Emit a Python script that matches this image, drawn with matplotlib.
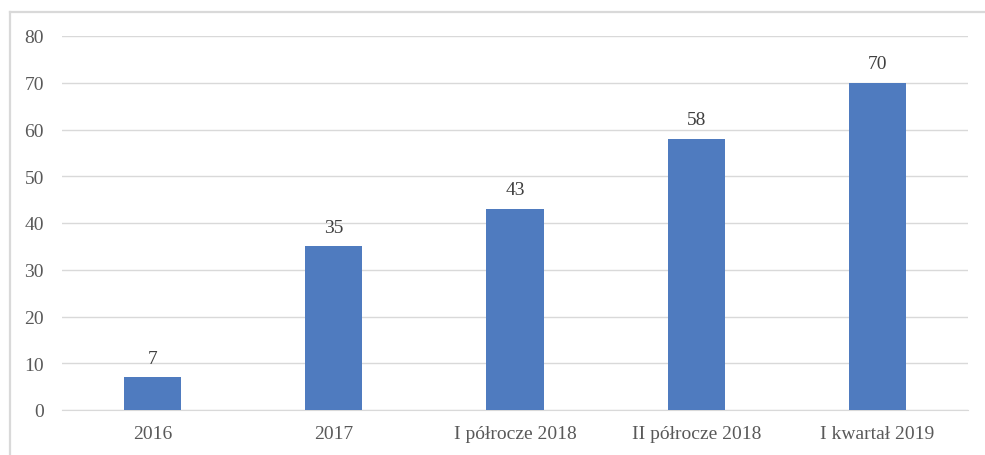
import matplotlib.pyplot as plt
from matplotlib.lines import Line2D

categories = ['2016', '2017', 'I półrocze 2018', 'II półrocze 2018', 'I kwartał 2019']
values = [7, 35, 43, 58, 70]
y_ticks = [0, 10, 20, 30, 40, 50, 60, 70, 80]

plt.rcParams['font.family'] = ['Liberation Serif', 'DejaVu Serif']

fig = plt.figure(figsize=(9.85, 4.56), dpi=100)
ax = fig.add_axes([62 / 985, 45 / 456, 906 / 985, 374 / 456])

x = range(len(categories))
bars = ax.bar(x, values, width=0.315, color='#4F7BBF', zorder=3)
for b, v in zip(bars, values):
    ax.text(b.get_x() + b.get_width() / 2, v + 2.3, str(v), ha='center', va='bottom',
            fontsize=14, color='#404040')

ax.set_xlim(-0.5, len(categories) - 0.5)
ax.set_ylim(0, 80)
ax.set_yticks(y_ticks)
ax.set_xticks(list(x))
ax.set_xticklabels(categories)
ax.tick_params(axis='both', length=0, labelsize=14, labelcolor='#595959')
ax.tick_params(axis='y', pad=13)
ax.tick_params(axis='x', pad=11)
ax.grid(axis='y', color='#D9D9D9', linewidth=1, zorder=0)
for s in ['top', 'right', 'left']:
    ax.spines[s].set_visible(False)
ax.spines['bottom'].set_color('#D9D9D9')

# frame around the chart (cut off at right and bottom)
fig.add_artist(Line2D([9.5 / 985, 1], [1 - 12.5 / 456] * 2, transform=fig.transFigure,
                      color='#D9D9D9', linewidth=1.6))
fig.add_artist(Line2D([9.5 / 985] * 2, [0, 1 - 12.5 / 456], transform=fig.transFigure,
                      color='#D9D9D9', linewidth=1.6))

fig.savefig('out.png', dpi=100)
